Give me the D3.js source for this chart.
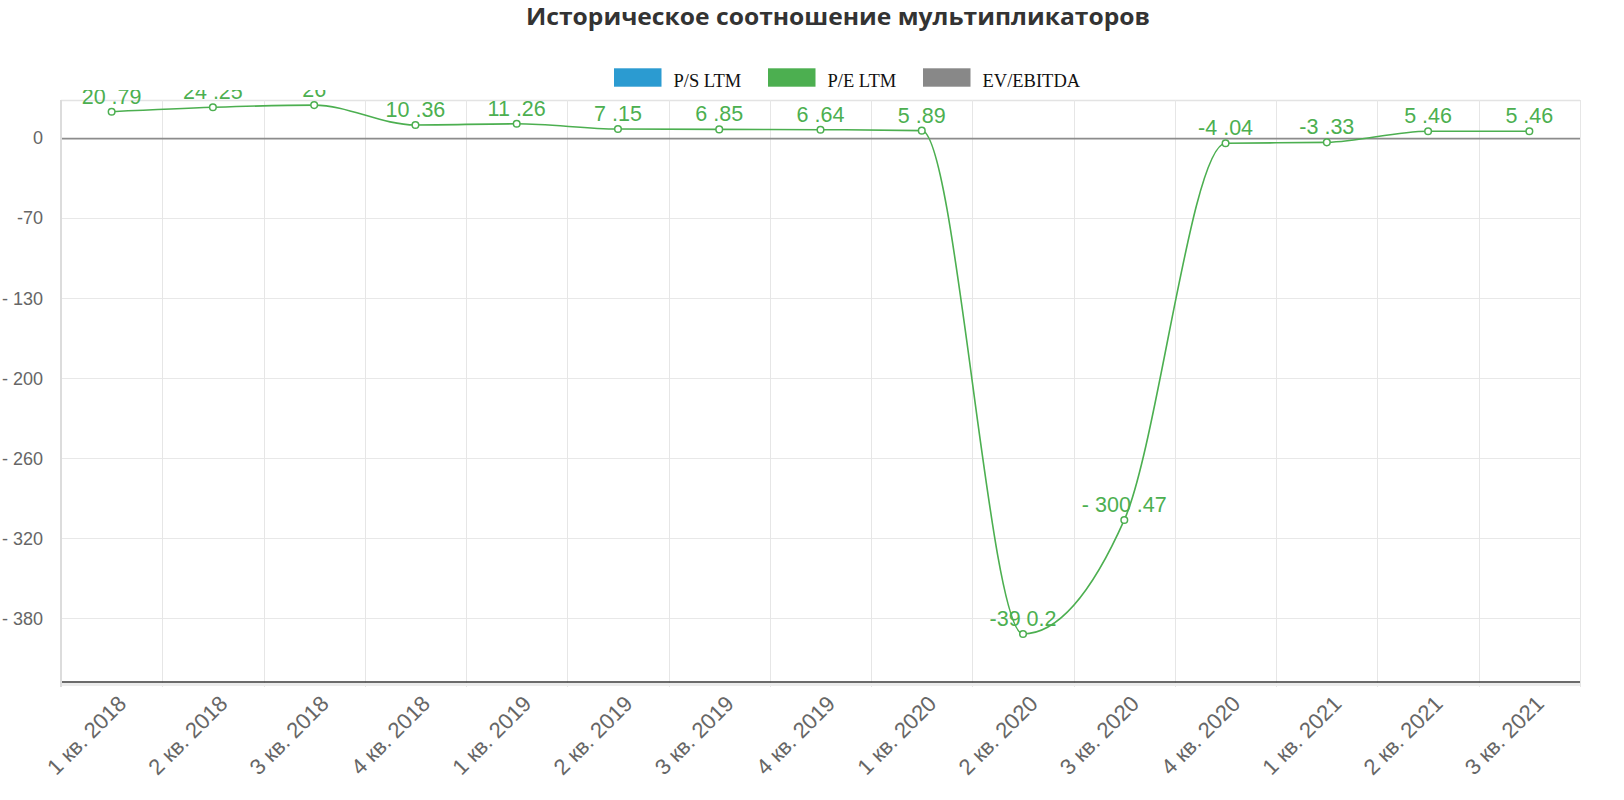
<!DOCTYPE html>
<html>
<head>
<meta charset="utf-8">
<script src="https://cdn.jsdelivr.net/npm/d3@7/dist/d3.min.js"></script>
<style>
  html, body { margin: 0; padding: 0; background: #fff; }
  svg { display: block; }
</style>
</head>
<body>
<svg id="chart" width="1624" height="800"></svg>
<script>
// ---- data ----
const categories = ["1 кв. 2018","2 кв. 2018","3 кв. 2018","4 кв. 2018","1 кв. 2019","2 кв. 2019","3 кв. 2019","4 кв. 2019","1 кв. 2020","2 кв. 2020","3 кв. 2020","4 кв. 2020","1 кв. 2021","2 кв. 2021","3 кв. 2021"];
const peValues = [20.79, 24.25, 26, 10.36, 11.26, 7.15, 6.85, 6.64, 5.89, -390.2, -300.47, -4.04, -3.33, 5.46, 5.46];
const peLabels = ["20 .79","24 .25","26","10 .36","11 .26","7 .15","6 .85","6 .64","5 .89","-39 0.2","- 300 .47","-4 .04","-3 .33","5 .46","5 .46"];
const yTickValues = [0, -63, -126, -189, -252, -315, -378];
const yTickLabels = ["0", "-70", "- 130", "- 200", "- 260", "- 320", "- 380"];
const legendNames = ["P/S LTM", "P/E LTM", "EV/EBITDA"];
const legendColors = ["#2b9bd1", "#4caf50", "#888888"];
const titleText = "Историческое соотношение мультипликаторов";
const yDomain = [-428, 30];

// ---- layout ----
const L = 61, R = 1580, T = 100, B = 682;
const green = "#4caf50";
const svg = d3.select("#chart");

const x = d3.scaleBand().domain(categories).range([L, R]).padding(0);
const y = d3.scaleLinear().domain(yDomain).range([B, T]);

// title
svg.append("text")
  .attr("x", 838).attr("y", 24.5)
  .attr("text-anchor", "middle")
  .attr("font-family", "'Open Sans', 'Noto Sans', sans-serif")
  .attr("font-weight", 700)
  .attr("font-size", 23)
  .attr("fill", "#333")
  .attr("textLength", 624)
  .attr("lengthAdjust", "spacingAndGlyphs")
  .text(titleText);

// legend
const legendX = [614, 768, 923];
const leg = svg.append("g");
legendNames.forEach((n, i) => {
  leg.append("rect").attr("x", legendX[i]).attr("y", 68.3).attr("width", 47.5).attr("height", 18.4).attr("fill", legendColors[i]);
  leg.append("text").attr("x", legendX[i] + 59.5).attr("y", 86.5)
    .attr("font-family", "'Liberation Serif', 'Times New Roman', serif")
    .attr("font-size", 18.5).attr("fill", "#111").text(n);
});

// horizontal gridlines
const grid = svg.append("g");
grid.selectAll("line.h").data(yTickValues.filter(v => v !== 0)).join("line")
  .attr("x1", L).attr("x2", R)
  .attr("y1", d => Math.round(y(d)) + 0.5).attr("y2", d => Math.round(y(d)) + 0.5)
  .attr("stroke", "#e8e8e8").attr("stroke-width", 1);
// top border
grid.append("line").attr("x1", L).attr("x2", R).attr("y1", T + 0.5).attr("y2", T + 0.5)
  .attr("stroke", "#e3e3e3").attr("stroke-width", 1.5);
// vertical gridlines at band edges
const edges = categories.map(c => x(c)).concat([x(categories[categories.length - 1]) + x.bandwidth()]);
grid.selectAll("line.v").data(edges.slice(1)).join("line")
  .attr("x1", d => Math.round(d) + 0.5).attr("x2", d => Math.round(d) + 0.5)
  .attr("y1", T).attr("y2", B + 5)
  .attr("stroke", "#e6e6e6").attr("stroke-width", 1);
// left axis line
grid.append("line").attr("x1", L).attr("x2", L).attr("y1", T).attr("y2", B + 5)
  .attr("stroke", "#dcdcdc").attr("stroke-width", 2);

// zero line
svg.append("line").attr("x1", L + 1).attr("x2", R).attr("y1", y(0) + 0.5).attr("y2", y(0) + 0.5)
  .attr("stroke", "#8c8c8c").attr("stroke-width", 1.6);

// bottom axis
svg.append("line").attr("x1", L + 1).attr("x2", R).attr("y1", B + 2.5).attr("y2", B + 2.5)
  .attr("stroke", "#ececec").attr("stroke-width", 3);
svg.append("line").attr("x1", L + 1).attr("x2", R).attr("y1", B).attr("y2", B)
  .attr("stroke", "#3a3a3a").attr("stroke-width", 1.6);

// y axis labels
const yAxis = d3.axisLeft(y).tickValues(yTickValues).tickSize(0).tickPadding(18)
  .tickFormat((d, i) => yTickLabels[i]);
const gy = svg.append("g").attr("transform", `translate(${L},0)`).call(yAxis);
gy.select(".domain").remove();
gy.selectAll("text").attr("font-family", "'Liberation Sans', Arial, sans-serif")
  .attr("font-size", 18).attr("fill", "#666");

// x axis labels
const xAxis = d3.axisBottom(x).tickSize(0).tickPadding(0);
const gx = svg.append("g").attr("transform", `translate(0,${B})`).call(xAxis);
gx.select(".domain").remove();
gx.selectAll(".tick text")
  .attr("font-family", "'Liberation Sans', Arial, sans-serif")
  .attr("font-size", 22).attr("fill", "#666")
  .attr("text-anchor", "end")
  .attr("y", 0).attr("dy", 0)
  .attr("transform", "translate(16,23) rotate(-45)");

// line
const line = d3.line()
  .x((d, i) => x(categories[i]) + x.bandwidth() / 2)
  .y(d => y(d))
  .curve(d3.curveMonotoneX);
svg.append("path").datum(peValues).attr("d", line)
  .attr("fill", "none").attr("stroke", green).attr("stroke-width", 1.6);

// points
svg.selectAll("circle.pt").data(peValues).join("circle")
  .attr("cx", (d, i) => x(categories[i]) + x.bandwidth() / 2)
  .attr("cy", d => y(d))
  .attr("r", 3.3)
  .attr("fill", "#fff").attr("stroke", green).attr("stroke-width", 1.5);

// data labels (clipped at top)
svg.append("clipPath").attr("id", "lblclip").append("rect")
  .attr("x", 0).attr("y", 90).attr("width", 1624).attr("height", 710);
svg.append("g").attr("clip-path", "url(#lblclip)")
  .selectAll("text").data(peValues).join("text")
  .attr("x", (d, i) => x(categories[i]) + x.bandwidth() / 2)
  .attr("y", d => y(d) - 8)
  .attr("text-anchor", "middle")
  .attr("font-family", "'Liberation Sans', Arial, sans-serif")
  .attr("font-size", 21.5)
  .attr("fill", green)
  .text((d, i) => peLabels[i]);
</script>
</body>
</html>
